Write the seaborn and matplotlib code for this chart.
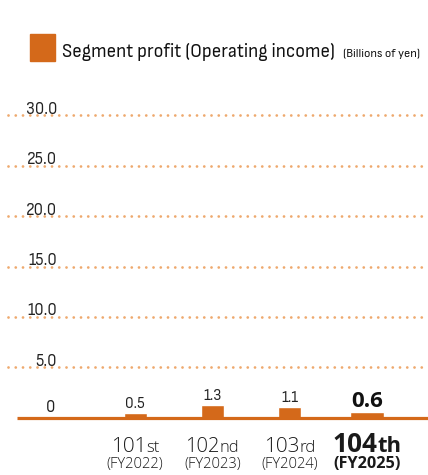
import matplotlib
matplotlib.use('Agg')
import matplotlib.pyplot as plt
import matplotlib.patches as mpatches
import matplotlib.transforms as mtrans
from matplotlib import font_manager
import seaborn as sns
import pandas as pd

# data
terms = ['101', '102', '103', '104']
suffixes = ['st', 'nd', 'rd', 'th']
fiscal_years = ['(FY2022)', '(FY2023)', '(FY2024)', '(FY2025)']
profit = [0.5, 1.3, 1.1, 0.6]
grid_values = [5.0, 10.0, 15.0, 20.0, 25.0, 30.0]

sns.set_theme(style='white')
installed = {f.name for f in font_manager.fontManager.ttflist}


def pick(*cands):
    return [c for c in cands if c in installed] + ['DejaVu Sans']


NARROW = pick('Sofia Sans Semi Condensed', 'Asap Condensed', 'Sofia Sans Condensed', 'Archivo Narrow')
WIDE = pick('Open Sans', 'Noto Sans')
plt.rcParams['font.family'] = NARROW

bar_color = '#D4691A'
grid_color = '#EEA96E'
txt = '#222222'

df = pd.DataFrame({'term': [t + s for t, s in zip(terms, suffixes)], 'profit': profit})

fig = plt.figure(figsize=(4.28, 4.75), dpi=100)
ax = fig.add_axes([0, 45 / 475, 1, 330 / 475])

sns.barplot(data=df, x='term', y='profit', color=bar_color, width=0.30, saturation=1, ax=ax)
# 이번 기 막대는 조금 넓게
last = ax.patches[3]
last.set_x(3 - 0.215)
last.set_width(0.43)

ax.set_xlim(-1.75, 3.79)
ax.set_ylim(-1.19, 31.49)
for s in ax.spines.values():
    s.set_visible(False)
ax.set_xticks([])
ax.set_yticks([])
ax.set_xlabel('')
ax.set_ylabel('')

fig.canvas.draw()
renderer = fig.canvas.get_renderer()


def fit(t, width_px):
    # 글자 폭을 원본에 맞춰 크기 조정
    w = t.get_window_extent(renderer).width
    t.set_fontsize(t.get_fontsize() * width_px / w)
    return t.get_fontsize()


# 점선 그리드 + y 라벨
probe = ax.text(0, 0, '30.0', fontsize=16)
ysize = fit(probe, 31)
probe.remove()
for g in grid_values:
    ax.plot([-1.65, 3.79], [g, g], color=grid_color, lw=2.0, ls=(0, (0.01, 2.6)),
            dash_capstyle='round', zorder=1)
    ax.text(-1.013, g + 0.15, f'{g:.1f}', ha='right', va='baseline', fontsize=ysize, color=txt)
ax.plot([-1.53, 3.79], [0, 0], color=bar_color, lw=2.3, zorder=3, solid_capstyle='butt')
ax.text(-1.04, 0.6, '0', ha='right', va='baseline', fontsize=ysize, color=txt)

# 값 라벨
probe = ax.text(0, 0, '0.5', fontsize=16)
vsize = fit(probe, 20)
probe.remove()
for i, v in enumerate(profit):
    if i == 3:
        t = ax.text(i, v + 0.5, f'{v:.1f}', ha='center', va='baseline', fontsize=20,
                    fontweight='bold', family=WIDE, color='#111111')
        fit(t, 32)
    else:
        ax.text(i, v + 0.5, f'{v:.1f}', ha='center', va='baseline', fontsize=vsize, color=txt)

# x 라벨 (숫자 + 작은 접미사)
blend = mtrans.blended_transform_factory(ax.transData, fig.transFigure)
label_w = [49, 54, 52, 69]
fy_w = [56, 56, 56, 67]
for i in range(4):
    bold = i == 3
    w = 'bold' if bold else 'light'
    t1 = ax.text(i, (475 - 452) / 475, terms[i], transform=blend, ha='left', va='baseline',
                 fontsize=16, fontweight=w, family=WIDE, color='#1a1a1a')
    t2 = ax.text(i, (475 - 452) / 475, suffixes[i], transform=blend, ha='left', va='baseline',
                 fontsize=13 if not bold else 13.5, fontweight=w, family=WIDE, color='#1a1a1a')
    w1 = t1.get_window_extent(renderer).width
    w2 = t2.get_window_extent(renderer).width
    k = label_w[i] / (w1 + w2)
    t1.set_fontsize(t1.get_fontsize() * k)
    t2.set_fontsize(t2.get_fontsize() * k)
    w1 = t1.get_window_extent(renderer).width
    w2 = t2.get_window_extent(renderer).width
    cx = ax.transData.transform((i, 0))[0]
    start = cx - (w1 + w2) / 2
    t1.set_x(ax.transData.inverted().transform((start, 0))[0])
    t2.set_x(ax.transData.inverted().transform((start + w1, 0))[0])
    t3 = ax.text(i, (475 - 468) / 475, fiscal_years[i], transform=blend, ha='center',
                 va='baseline', fontsize=11, fontweight=w, family=WIDE, color='#1a1a1a')
    fit(t3, fy_w[i])

# 제목
fig.patches.append(mpatches.Rectangle((30 / 428, (475 - 61) / 475), 25 / 428, 27 / 475,
                                      transform=fig.transFigure, color=bar_color))
t = fig.text(62 / 428, (475 - 57) / 475, 'Segment profit (Operating income)', fontsize=21,
             color='#111111', ha='left', va='baseline')
fit(t, 273)
t = fig.text(343 / 428, (475 - 57) / 475, '(Billions of yen)', fontsize=9.5,
             color='#111111', ha='left', va='baseline')
fit(t, 77)

fig.savefig('out.png', dpi=100)
